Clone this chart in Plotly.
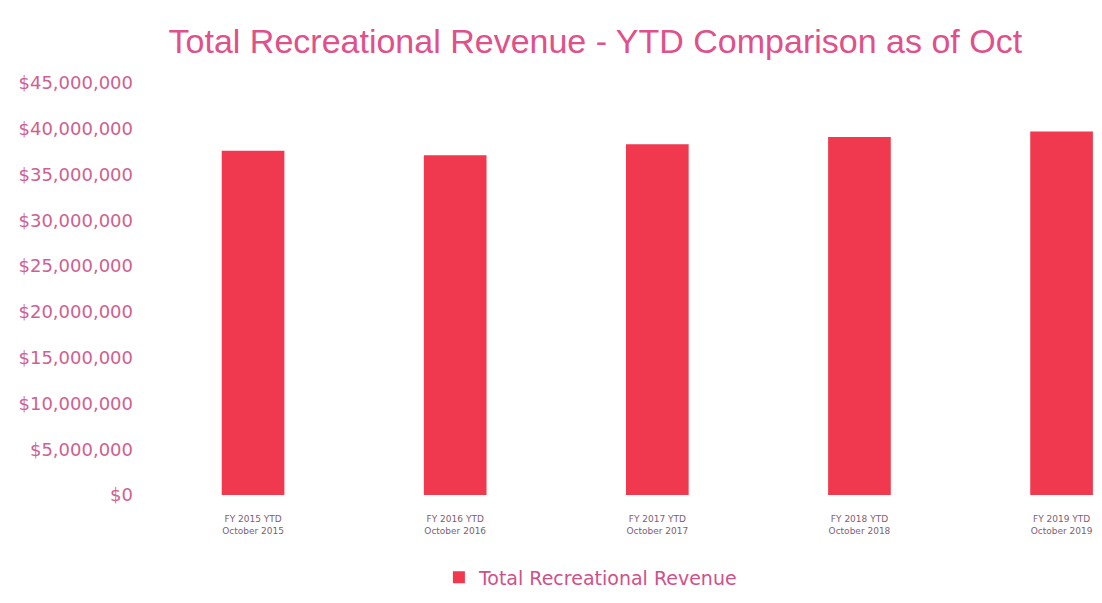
import plotly.graph_objects as go

categories = ["FY 2015 YTD<br>October 2015", "FY 2016 YTD<br>October 2016", "FY 2017 YTD<br>October 2017",
              "FY 2018 YTD<br>October 2018", "FY 2019 YTD<br>October 2019"]
revenue = [37600000, 37100000, 38300000, 39100000, 39700000]
tick_values = [0, 5e6, 10e6, 15e6, 20e6, 25e6, 30e6, 35e6, 40e6, 45e6]
tick_labels = ["$0", "$5,000,000", "$10,000,000", "$15,000,000", "$20,000,000", "$25,000,000",
               "$30,000,000", "$35,000,000", "$40,000,000", "$45,000,000"]

fig = go.Figure()
fig.add_trace(go.Bar(
    x=list(range(len(categories))), y=revenue, name="Total Recreational Revenue",
    marker=dict(color="#f0384e", line=dict(width=0)), width=0.31,
))

fig.update_layout(
    width=1102, height=603,
    paper_bgcolor="white", plot_bgcolor="white",
    margin=dict(l=144, r=8, t=75, b=116),
    title=dict(text="Total Recreational Revenue - YTD Comparison as of Oct",
               x=0.533, xanchor="center", y=0.945, yanchor="middle",
               font=dict(family="Liberation Sans", size=34, color="#e0508a")),
    showlegend=True,
    legend=dict(orientation="h", x=0.462, xanchor="center", y=-0.2, yanchor="middle",
                font=dict(family="DejaVu Sans", size=19, color="#d0508a")),
    bargap=0.69,
)
fig.update_xaxes(
    tickmode="array", tickvals=list(range(len(categories))), ticktext=categories,
    range=[-0.5, 4.2], showgrid=False, zeroline=False, showline=False, ticks="",
    ticklabelstandoff=17,
    tickfont=dict(family="DejaVu Sans", size=9, color="#806070"),
)
fig.update_yaxes(
    tickmode="array", tickvals=tick_values, ticktext=tick_labels,
    range=[0, 45e6], showgrid=False, zeroline=False, showline=False, ticks="",
    ticklabelstandoff=18,
    tickfont=dict(family="DejaVu Sans", size=18, color="#d06090"),
)

fig.write_html("out.html")
